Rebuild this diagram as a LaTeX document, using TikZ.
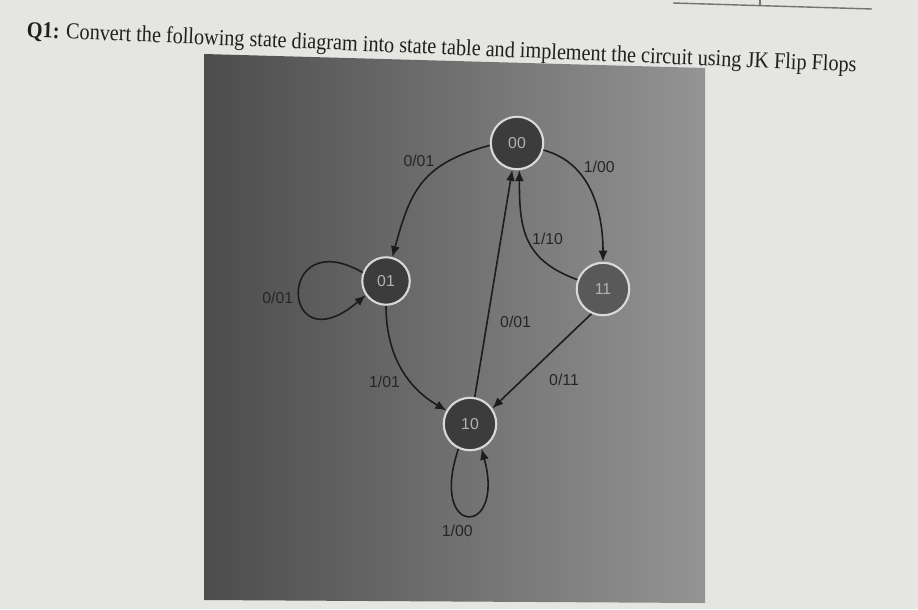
\documentclass[tikz,border=0pt]{standalone}
\usepackage{fontspec}
\setmainfont{Liberation Serif}
\setsansfont{Liberation Sans}
\usetikzlibrary{arrows.meta,positioning}
\definecolor{paper}{HTML}{E5E5E2}
\definecolor{disc}{HTML}{3B3C3B}
\definecolor{wire}{HTML}{1C1C1C}

\begin{document}
\begin{tikzpicture}[x=0.02cm,y=-0.02cm,thick,
    state/.style={circle,fill=disc,draw=white!70!gray,line width=1.2pt,minimum size=1.05cm,inner sep=0pt,text=gray!60,font=\sffamily\small},
    trans/.style={draw=wire,line width=0.9pt,-{Latex[length=2.2mm,width=1.8mm]}},
    lbl/.style={font=\sffamily\fontsize{9}{10}\selectfont,text=black!85,inner sep=1pt}]
    \useasboundingbox (0,0) rectangle (918,609);
    \fill [paper] (0,0) rectangle (918,609);
    \draw [black!55,line width=0.8pt] (673,3) -- (872,9);
    \draw [black!55,line width=0.6pt] (760,0) -- (760,6);

    % the photo of the diagram
    \shade [left color=black!70,right color=black!42] (204,54) -- (705,68) -- (705,603) -- (204,600) -- cycle;

    \node (title) [anchor=base west,rotate=-2.4,inner sep=0pt,text=black!88] at (26,37)
        {\fontsize{13}{15}\selectfont\scalebox{0.885}[1]{\textbf{Q1:} Convert the following state diagram into state table and implement the circuit using JK Flip Flops}};

    \node (s00) [state] at (517,143) {00};
    \node (s01) [state,minimum size=0.95cm] at (386,281) {01};
    \node (s11) [state,fill=disc!85!white] at (603,289) {11};
    \node (s10) [state] at (470,424) {10};

    \path (s00.185) edge [trans,out=195,in=75,looseness=1.2] node [lbl,pos=0.35,above left] {0/01} (s01.75);
    \path (s00) edge [trans,out=-15,in=90] node [lbl,pos=0.35,above right] {1/00} (s11);
    \path (s11) edge [trans,out=160,in=-90,looseness=1.2] node [lbl,pos=0.5,right=1pt] {1/10} (s00.-85);
    \path (s10.80) edge [trans] node [lbl,pos=0.33,right=6pt] {0/01} (s00.-100);
    \path (s11.-115) edge [trans] node [lbl,pos=0.7,right=14pt] {0/11} (s10.35);
    \path (s01) edge [trans,out=-90,in=150] node [lbl,pos=0.65,left=5pt] {1/01} (s10);

    \path [trans] (s01.160) .. controls (275,222) and (280,368) .. node [lbl,left,xshift=-2pt,yshift=-3pt] {0/01} (s01.215);
    \path [trans] (s10.245) .. controls (428,538) and (506,538) .. node [lbl,below=4pt,xshift=-6pt] {1/00} (s10.295);
\end{tikzpicture}
\end{document}
